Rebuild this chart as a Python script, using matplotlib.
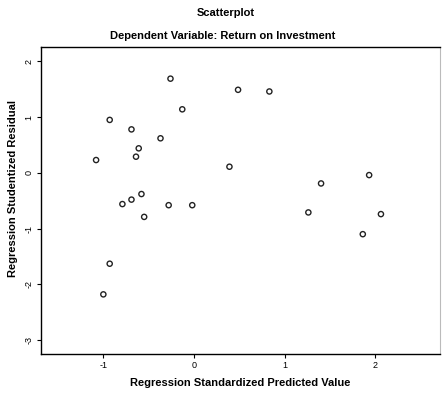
import matplotlib
matplotlib.use("Agg")
import matplotlib.pyplot as plt

plt.rcParams["font.family"] = ["Liberation Sans", "DejaVu Sans"]

# ── data ─────────────────────────────────────────────────────────────────────
pred_std = [-0.26, 0.485, -0.13, -0.93, -0.69, -0.37, -0.61, -0.64, -1.08, 0.39,
            -0.58, -0.69, -0.79, -0.28, -0.02, -0.55, -0.93, -1.00,
            0.83, 1.40, 1.93, 1.26, 2.06, 1.86]
resid_stud = [1.69, 1.49, 1.14, 0.95, 0.78, 0.62, 0.44, 0.29, 0.23, 0.11,
              -0.38, -0.48, -0.56, -0.58, -0.58, -0.79, -1.63, -2.18,
              1.46, -0.19, -0.04, -0.71, -0.74, -1.10]
x_ticks = [-1, 0, 1, 2]
y_ticks = [-3, -2, -1, 0, 1, 2]

# ── plot ─────────────────────────────────────────────────────────────────────
fig = plt.figure(figsize=(4.43, 3.94), dpi=100)
ax = fig.add_axes([0.092, 0.1015, 0.901, 0.7795])

ax.scatter(pred_std, resid_stud, s=14, facecolors="none", edgecolors="#222222",
           linewidths=1.0)

ax.set_xlim(-1.69, 2.71)
ax.set_ylim(-3.25, 2.26)
ax.set_xticks(x_ticks)
ax.set_yticks(y_ticks)
ax.set_xticklabels([str(t) for t in x_ticks], fontsize=6.5)
ax.set_yticklabels([str(t) for t in y_ticks], fontsize=6.5, rotation=90, va="center")
ax.tick_params(direction="out", length=3, width=0.8, pad=2)

for side in ["left", "bottom", "top"]:
    ax.spines[side].set_linewidth(1.0)
ax.spines["right"].set_color("#bbbbbb")

ax.set_xlabel("Regression Standardized Predicted Value", fontsize=8,
              fontweight="bold", labelpad=6)
ax.set_ylabel("Regression Studentized Residual", fontsize=8,
              fontweight="bold")
ax.yaxis.set_label_coords(-0.058, 0.54)

fig.text(0.51, 0.967, "Scatterplot", ha="center", va="center", fontsize=8,
         fontweight="bold")
fig.text(0.503, 0.909, "Dependent Variable: Return on Investment", ha="center",
         va="center", fontsize=8, fontweight="bold")

fig.savefig("out.png", dpi=100)
